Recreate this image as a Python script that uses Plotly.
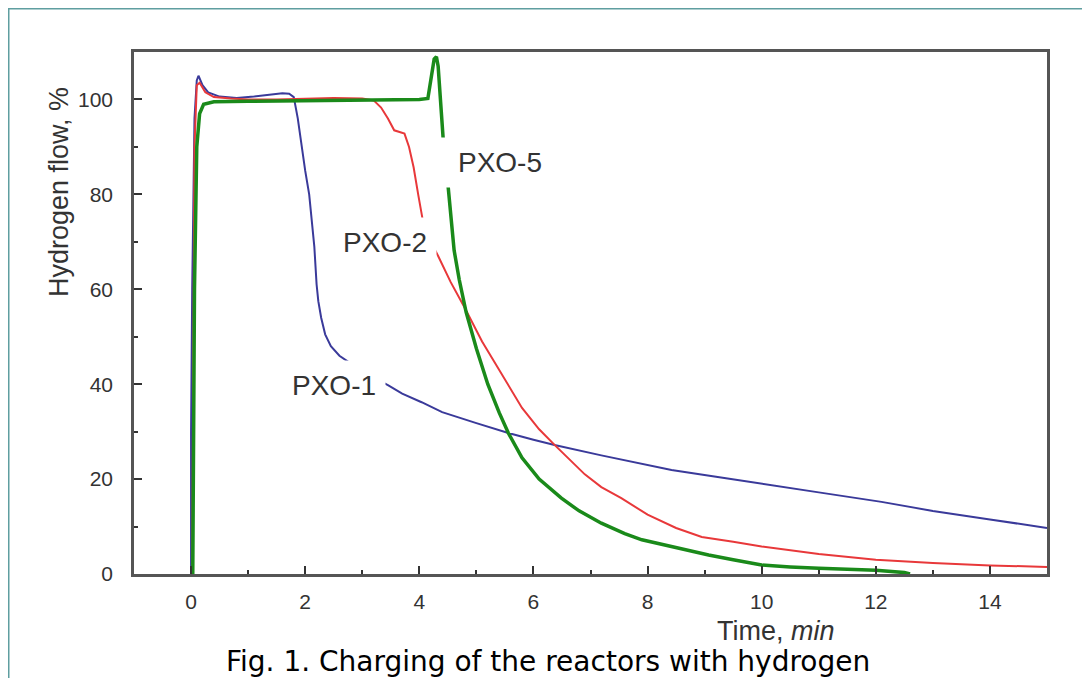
import plotly.graph_objects as go

# PXO-1 (blue)
pxo1_t = [0.0, 0.0, 0.02, 0.06, 0.10, 0.13, 0.20, 0.30, 0.50, 0.80, 1.10, 1.40, 1.60, 1.72, 1.80, 1.87,
          1.94, 2.00, 2.07, 2.12, 2.16, 2.20, 2.23, 2.28, 2.35, 2.45, 2.60, 2.77, 3.00, 3.20, 3.45, 3.70,
          4.04, 4.40, 5.00, 5.56, 6.00, 6.37, 7.19, 7.90, 8.42, 9.20, 10.0, 11.0, 12.1, 13.0, 14.0, 15.0]
pxo1_v = [0.0, 30.0, 60.0, 96.0, 104.0, 105.0, 103.0, 101.5, 100.6, 100.3, 100.6, 101.1, 101.3, 101.2, 100.5, 96.0,
          90.0, 85.0, 80.0, 74.0, 69.0, 61.0, 57.5, 54.0, 50.5, 48.0, 46.0, 44.6, 42.8, 41.4, 39.8, 38.0,
          36.2, 34.1, 31.8, 29.7, 28.3, 27.2, 25.0, 23.3, 21.9, 20.5, 19.1, 17.2, 15.2, 13.3, 11.5, 9.7]

# PXO-2 (red)
pxo2_t = [0.02, 0.06, 0.10, 0.15, 0.25, 0.40, 0.70, 1.00, 1.50, 2.00, 2.50, 3.00, 3.20, 3.33, 3.45, 3.56,
          3.74, 3.82, 3.90, 3.98, 4.07, 4.20, 4.33, 4.55, 4.80, 5.10, 5.44, 5.80, 6.10, 6.37, 6.90, 7.19,
          7.54, 8.00, 8.50, 8.95, 9.50, 10.0, 11.0, 12.0, 13.0, 14.0, 15.0]
pxo2_v = [0.0, 90.0, 103.0, 103.5, 101.5, 100.5, 100.2, 100.0, 100.0, 100.2, 100.3, 100.2, 99.8, 98.3, 96.0, 93.5,
          92.8, 90.0, 85.7, 80.0, 73.9, 70.0, 67.0, 61.5, 56.0, 49.0, 42.3, 35.0, 30.5, 27.2, 21.0, 18.3,
          16.0, 12.5, 9.7, 7.8, 6.8, 5.8, 4.2, 3.0, 2.3, 1.8, 1.5]

# PXO-5 (green)
pxo5_t = [0.03, 0.06, 0.10, 0.15, 0.22, 0.40, 1.00, 2.00, 3.00, 4.00, 4.15, 4.20, 4.26, 4.30, 4.33, 4.37,
          4.42, 4.50, 4.61, 4.70, 4.82, 5.00, 5.20, 5.40, 5.56, 5.80, 6.10, 6.49, 6.80, 7.19, 7.60, 7.90,
          8.50, 9.07, 9.50, 10.0, 10.5, 11.0, 12.0, 12.5, 12.6]
pxo5_v = [0.0, 60.0, 90.0, 97.0, 99.0, 99.5, 99.6, 99.7, 99.8, 100.0, 100.2, 104.0, 108.5, 109.0, 107.0, 100.0,
          91.4, 82.3, 68.2, 62.0, 55.2, 47.5, 40.0, 34.0, 29.7, 24.5, 20.0, 16.0, 13.3, 10.7, 8.5, 7.2,
          5.5, 4.0, 3.0, 1.9, 1.5, 1.2, 0.8, 0.3, 0.0]

series_names = ["PXO-1", "PXO-2", "PXO-5"]
label_x = [2.5, 3.39, 4.28]
label_y = [39.8, 69.9, 86.7]

x_ticks = [0, 2, 4, 6, 8, 10, 12, 14]
y_ticks = [0, 20, 40, 60, 80, 100]

colors = ["#3a3a9a", "#e8383a", "#1a8a1a"]
widths = [2, 2, 3.5]

fig = go.Figure()
for t, v, name, c, w in zip([pxo1_t, pxo2_t, pxo5_t], [pxo1_v, pxo2_v, pxo5_v], series_names, colors, widths):
    fig.add_trace(go.Scatter(x=t, y=v, mode="lines", name=name,
                             line=dict(color=c, width=w), showlegend=False))

# page has an 8px body margin; figure sized to fit the 1090x686 window
OFF = 8
FW, FH = 1090 - 2 * OFF, 686 - 2 * OFF
PL, PR, PT, PB = 134, 1047, 52, 574   # plot box in window pixels
L, T = PL - OFF, PT - OFF
R = FW - (PR - OFF)
B = FH - (PB - OFF)
pw, ph = PR - PL, PB - PT

def px(xp):
    return (xp - PL) / pw

def py(yp):
    return (PB - yp) / ph

lab_font = dict(family="Liberation Sans", size=28, color="#333333")
annotations = [
    dict(x=label_x[0], y=label_y[0], xref="x", yref="y", text=series_names[0], showarrow=False,
         font=lab_font, bgcolor="white", borderpad=9, xanchor="center", yanchor="middle"),
    dict(x=label_x[1], y=label_y[1], xref="x", yref="y", text=series_names[1], showarrow=False,
         font=lab_font, bgcolor="white", borderpad=9, xanchor="center", yanchor="middle"),
    dict(x=label_x[2], y=label_y[2], xref="x", yref="y", text=series_names[2], showarrow=False,
         font=lab_font, bgcolor="white", borderpad=9, xanchor="left", yanchor="middle",
         width=97, align="right"),
]

annotations.append(dict(x=px(59), y=py(192), xref="paper", yref="paper", text="Hydrogen flow, %",
                        textangle=-90, showarrow=False, xanchor="center", yanchor="middle",
                        font=dict(family="Liberation Sans", size=27, color="#333333")))
annotations.append(dict(x=px(776), y=py(631), xref="paper", yref="paper", text="Time, <i>min</i>",
                        showarrow=False, xanchor="center", yanchor="middle",
                        font=dict(family="Liberation Sans", size=27, color="#333333")))
annotations.append(dict(x=px(548), y=py(661), xref="paper", yref="paper",
                        text="Fig. 1. Charging of the reactors with hydrogen",
                        showarrow=False, xanchor="center", yanchor="middle",
                        font=dict(family="DejaVu Sans", size=28, color="#000000")))

shapes = [dict(type="rect", xref="paper", yref="paper", x0=px(8), x1=px(1200), y0=py(8), y1=py(800),
               line=dict(color="#5f9ea0", width=3), fillcolor="rgba(0,0,0,0)", layer="below")]

fig.update_layout(
    width=FW, height=FH,
    margin=dict(l=L, r=R, t=T, b=B, pad=0),
    paper_bgcolor="white", plot_bgcolor="white",
    annotations=annotations, shapes=shapes,
    xaxis=dict(range=[-1, 15], tickvals=x_ticks, ticks="inside", ticklen=8, tickwidth=2,
               tickcolor="#333333", showline=True, linecolor="#555555", linewidth=2.5, mirror=True,
               showgrid=False, zeroline=False, ticklabelstandoff=7,
               tickfont=dict(family="Liberation Sans", size=21, color="#333333"),
               minor=dict(dtick=1, tick0=1, ticks="inside", ticklen=4, tickwidth=2, tickcolor="#333333")),
    yaxis=dict(range=[0, 110], tickvals=y_ticks, ticks="inside", ticklen=8, tickwidth=2,
               tickcolor="#333333", showline=True, linecolor="#555555", linewidth=2.5, mirror=True,
               showgrid=False, zeroline=False, ticklabelstandoff=14,
               tickfont=dict(family="Liberation Sans", size=21, color="#333333"),
               minor=dict(dtick=10, tick0=10, ticks="inside", ticklen=4, tickwidth=2, tickcolor="#333333")),
)

fig.write_html("out.html")
